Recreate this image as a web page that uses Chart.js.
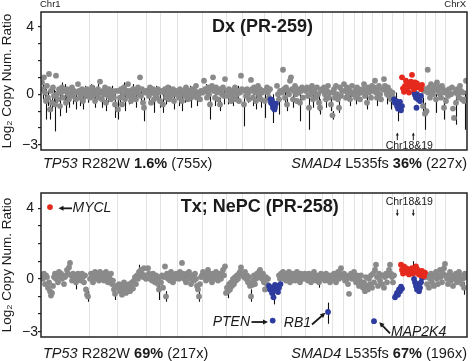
<!DOCTYPE html>
<html><head><meta charset="utf-8">
<script src="https://cdn.jsdelivr.net/npm/chart.js@4.4.1/dist/chart.umd.min.js"></script>
<style>
html,body{margin:0;padding:0;background:#fff;}
#wrap{position:relative;width:473px;height:361px;overflow:hidden;font-family:"Liberation Sans",Arial,sans-serif;color:#1a1a1a;background:#fff;}
canvas{position:absolute;left:0;}
.t{position:absolute;white-space:nowrap;line-height:18px;font-size:14.5px;}
.s{position:absolute;white-space:nowrap;font-size:9.5px;line-height:10px;}
</style></head><body>
<div id="wrap">
<canvas id="c1" width="473" height="175" style="top:0"></canvas>
<canvas id="c2" width="473" height="181" style="top:180px"></canvas>
<div class="s" style="left:40px;top:-1px">Chr1</div>
<div class="s" style="right:7px;top:-1px">ChrX</div>
<div class="t" style="left:43px;top:154px"><i>TP53</i> R282W <b>1.6%</b> (755x)</div>
<div class="t" style="right:6px;top:154px"><i>SMAD4</i> L535fs <b>36%</b> (227x)</div>
<div class="t" style="left:43px;top:344px"><i>TP53</i> R282W <b>69%</b> (217x)</div>
<div class="t" style="right:6px;top:344px"><i>SMAD4</i> L535fs <b>67%</b> (196x)</div>
</div>
<script>
// ---- chromosome boundaries (genome position units) ----
const chrBounds = [48,76.3,105.7,119.7,136.3,161.5,185,201.7,223,240,264.3,281.7,291,302.3,313,321.5,331.5,341,351,362.3,375,384.3,394.3,404.3];
const yTickValues = [-3,-2,-1,0,1,2,3,4];
const yTickLabels = {"4":"4","0":"0","-3":"\u22123"};

// ---- Dx (PR-259): [position, log2 ratio, (low, high)] ----
const dxGray = [
[1,0.7],[2,0.3,-0.3,0.9],[3,1.0],[4,0.1,-0.5,0.5],[5,-0.4,-1.5,0.3],[6,0.5],[7,-0.2,-0.7,0.2],[8,1.2],[9,-0.9,-1.5,-0.3],[10,0.2],[11,-0.5,-1.0,0],[12,0.4],[13,-0.1,-0.6,0.3],[14,-0.6,-2.2,0.2],[15,1.1],[16,0.0,-0.5,0.4],[17,-0.3],[18,0.3],[19,-0.7,-1.3,0],[20,0.1],[21,0.4,-0.2,0.7],[22,-0.2],[24,0.2,-0.4,0.6],[25,-0.5,-1.1,0],[26,0.3],[27,0.0],[28,-0.3,-0.8,0.1],[30,0.1],[31,0.4],[32,-0.1,-0.6,0.3],[33,0.2],[35,-0.3,-0.9,0.1],[36,0.1],[37,0.6],[38,0.2],[39,-0.2,-0.7,0.2],[40,0.0],[41,0.3],[42,-0.4,-0.9,0],[43,0.1],[44,0.2,-0.3,0.5],[45,-0.1],[46,0.3],[47,0.0,-0.5,0.3],
[49,-0.2],[50,0.2,-0.3,0.6],[51,0.4],[52,-0.1],[53,0.1,-0.4,0.5],[54,-0.4,-0.8,0],[55,0.2],[56,0.0],[57,0.3,-0.2,0.6],[58,-0.2],[59,0.75],[60,0.1],[61,-0.3,-0.8,0.1],[62,0.2],[63,0.0],[64,0.4],[65,-0.5,-1.0,0],[66,0.1],[67,-0.1,-0.5,0.3],[68,0.3],[69,0.0],[70,-0.3],[71,0.2,-0.3,0.5],[72,0.1],[73,-0.2],[74,-0.6,-1.4,0],[75,0.2],
[77,-0.9,-1.5,-0.3],[78,0.2],[79,-0.2,-0.6,0.2],[80,0.3],[81,-0.6],[82,0.0],[83,0.4,-0.1,0.7],[84,-0.3,-1.0,0.2],[85,0.1],[86,0.2],[87,0.6],[88,-0.1,-0.6,0.3],[89,0.2],[90,-0.4],[91,0.0],[92,0.3,-0.2,0.6],[93,-0.2],[94,0.1],[95,-0.3,-0.8,0],[96,0.2],[97,0.4],[98,0.0],[99,1.0],[100,-0.1,-0.5,0.3],[101,0.3],[102,-0.5],[103,-0.8,-1.6,-0.2],[104,0.1],[105,0.2],
[107,0.2],[108,-0.1,-0.6,0.3],[109,0.4],[110,-0.5],[111,0.1],[112,0.3],[113,-0.3,-1.1,0.1],[114,0.0],[115,0.2,-0.3,0.5],[116,-0.2],[117,0.3],[118,0.1],[119,-0.4,-0.8,0],
[121,0.2],[122,-0.6,-1.1,0],[123,0.1],[124,0.3],[125,-0.2,-0.6,0.2],[126,0.0],[127,0.4],[128,-0.3],[129,0.2,-0.3,0.5],[130,-0.1],[131,0.1],[132,0.3],[133,-0.4,-0.9,0],[134,0.0],[135,0.2],
[137,0.1],[138,-0.2,-0.7,0.2],[139,0.3],[140,0.0],[141,-0.4,-1.0,0],[142,0.2],[143,0.1],[144,-0.1,-0.5,0.3],[145,0.4],[146,0.0],[147,-0.3],[148,0.2],[149,0.1,-0.4,0.5],[150,-0.2,-0.8,0.2],[151,0.3],[152,0.0],[153,-0.1],[154,0.2],[155,0.5],[156,-0.2,-0.7,0.2],[157,0.1],[158,0.0],[159,-0.3],[160,0.2],
[162,0.1],[163,0.8],[164,0.3],[165,0.2,-0.3,0.6],[166,-0.2],[167,0.4],[168,0.0],[169,-0.6,-1.5,0],[170,0.3],[171,0.5],[172,1.0],[173,0.2],[174,-0.2,-0.7,0.2],[175,0.4],[176,0.1],[177,-0.3],[178,0.3],[179,-0.6,-1.0,-0.2],[180,0.2],[181,0.0],[182,0.4],[183,-0.1,-0.6,0.3],[184,0.9],
[186,0.2],[187,-0.1,-0.6,0.3],[188,0.3],[189,0.0],[190,-0.4],[191,0.2],[192,-0.2,-0.7,0.2],[193,0.1],[194,0.4],[195,-0.3],[196,0.0],[197,0.2,-0.3,0.5],[198,-0.4],[199,0.1],[200,1.1],[201,0.3],
[203,-0.6,-1.9,-0.1],[204,0.2],[205,-0.1],[206,0.3],[207,0.0,-0.5,0.4],[208,-0.3],[209,0.2],[210,0.85],[211,0.3],[212,-0.2,-0.7,0.2],[213,0.4],[214,0.1],[215,-0.4,-0.9,0],[216,0.2],[217,0.5],[218,-0.1],[219,0.3],[220,-0.3,-0.8,0.1],[221,0.1],[222,0.2],
[224,-0.4,-1.4,0],[225,0.2],[226,0.4],[227,0.1],[228,-0.2],[229,0.3],[236,0.5],[237,0.0],[238,-0.3,-1.2,0.1],[239,0.2],
[241,0.1],[242,1.45],[243,0.3],[244,-0.2,-0.7,0.2],[245,0.4],[246,-0.6,-1.0,-0.2],[247,0.2],[248,0.0],[249,0.8],[250,1.0],[251,0.3],[252,-0.3,-0.8,0.1],[253,0.2],[254,0.5],[255,0.0],[256,-0.4],[257,0.3],[258,0.1],[259,-0.5,-1.6,0],[260,0.2],[261,0.4],[262,-0.2],[263,0.3],
[265,0.2],[266,0.4],[267,-0.1],[268,-0.8,-2.1,-0.2],[269,0.3],[270,0.0],[271,0.5],[272,-0.3,-0.8,0.1],[273,0.2],[274,0.1],[275,-0.2],[276,0.4],[277,0.0],[278,-0.5,-1.0,0],[279,-0.8,-1.2,-0.3],[280,0.2],[281,0.3],
[283,0.4],[284,0.0],[285,-0.3,-0.8,0.1],[286,0.2],[287,0.5],[288,-0.2],[289,0.1],[290,-0.6,-1.0,-0.2],
[291.5,-1.25,-1.5,-1.0],[292,0.1],[293,0.3],[294,-0.2],[295,0.5],[296,0.0],[297,-0.3],[298,-0.8,-1.1,-0.4],[299,0.4],[300,-0.1],[301,0.2],
[303,0.6],[304,0.2],[305,-0.2],[306,0.4],[307,0.0],[308,0.3],[309,-0.3,-0.7,0],[310,0.1],[311,0.5],[312,0.0],
[314,0.2],[315,-0.2,-0.6,0.2],[316,0.4],[317,0.0],[318,0.3],[319,-0.3],[320,0.1],[321,0.2],
[322,0.3],[323,0.6],[324,-0.1],[325,0.2],[326,-0.5,-0.9,0],[327,0.4],[328,0.1],[329,0.3],[330,-0.2],[331,0.5],
[332,0.2],[333,0.4],[334,0.8],[335,0.1],[336,-0.2,-0.7,0.2],[337,0.3],[338,0.5],[339,0.0],[340,-0.3],
[342,0.3],[343,0.9],[344,0.5],[345,0.2],[346,0.0,-0.6,0.3],[347,0.4],[348,-0.1],[349,0.2],[350,-0.3,-0.9,0.1],
[351.5,0.1],[352,-0.2],
[382,-0.7,-1.2,-0.2],[383,0.2],[384,-1.15,-2.1,-0.5],[385,0.3],[385.5,-1.0],[386.7,1.45],[387,0.1],[388,0.4],[389,-0.2],[390,0.6],[391,0.2],[392,0.0],[393,0.5],[394,0.3],[395,-0.3,-1.1,0],[396,0.7],[397,0.2],[398,0.4],[399,0.0],[400,-0.2],[401,0.5],[402,0.3],[403,-0.8,-1.5,-0.2],[404,0.1],[405,-0.4],[406,0.2],[407,-0.1],[408,0.3],[409,0.0],[410,0.0],[411,0.4],[412,-0.85],[413,-1.4],[414,0.1],[415,-0.5,-1.8,0.1],[416,0.3],[417,0.0],[418,-0.2],[419,0.5],[420,0.2],[421,-0.3],[422,0.1],[423,-0.4],[424,-0.3,-2.1,0.2],[425,0.8]
];
const dxBlue = [
[229.5,-0.3],[230,-0.5],[231,-0.35],[231.5,-0.6],[232,-0.8,-1.7,0],[233,-0.65],[233.5,-0.9],[234,-0.75],[235,-0.55],
[353,-0.3],[354,-0.5],[355,-0.4,-1.0,0.1],[356,-0.7],[357,-0.85,-1.6,-0.3],[358,-0.6],[359,-0.45],[360,-0.95],[361,-0.7],
[373,0.1],[374,-0.05],[375,-0.2],[376,0.0],[377,-0.3],[378,-0.15],[379,-0.4],[380,-0.1],[375.5,-0.8]
];
const dxRed = [
[361,1.0],[362,0.35],[363,0.15],[364,0.5],[365,0.8],[366,0.25],[367,0.6],[368,0.1],[369,0.45],[370,0.75],[371,1.15],[372,0.55],[373,0.3],[374,0.7],[375,0.4],[376,0.65],[378,0.45],[380,0.3],[381,0.55]
];

// ---- Tx; NePC (PR-258) ----
const txGray = [
[1,0.2],[2,0.0],[3,0.3],[4,-0.3],[5,0.2],[6,0.1],[7,-0.5],[8,-0.2],[9,-0.7],[10,-0.95],[11,-0.8],[12,-0.4],[13,0.1],[14,0.3],[15,0.0],[16,0.2],[17,-0.2],[18,0.4],[19,0.1],[20,0.3],[21,0.0],[22,0.2],[23,-0.3],[24,0.1],[25,0.2],[26,0.5],[27,0.3],[28,0.65],[29,0.9],[30,0.2],[31,-0.1],[32,0.3],[33,0.0],[34,0.2],[35,-0.2,-0.6,0.2],[36,0.1],[37,0.3],[38,0.0],[39,0.2],[40,-0.1],[41,0.3],[42,0.1],[43,-0.2],[44,0.2],[45,-0.6],[46,-0.9],[47,-1.0,-1.3,-0.7],
[49,0.0],[50,0.3],[51,0.1],[52,-0.2],[53,0.2],[54,0.4],[55,0.0],[56,0.3],[57,0.1],[58,-0.1],[59,0.4],[60,0.2],[61,0.0],[62,0.3],[63,-0.1],[64,0.2],[65,0.4],[66,0.1],[67,-0.2],[68,0.2],[69,0.0],[70,0.3],[71,-0.3],[72,-0.1],[73,-0.6],[74,-0.85,-1.2,-0.5],[75,-0.4],
[77,-0.5],[78,-0.3],[79,-0.7],[80,-0.4],[81,-0.9],[82,-0.6],[83,-0.2],[84,-0.5],[85,-0.8],[86,-0.4],[87,-0.6],[88,-0.3],[89,-0.7],[90,-0.45],[91,-0.2],[92,-0.55],[93,-0.1],[94,0.1],[95,-0.3],[96,0.2],[97,0.0],[98,0.4,0.1,0.8],[99,0.2],[100,0.5],[101,0.3],[102,0.1],[103,0.6],[104,0.2],[105,0.0],
[107,0.6],[108,0.3],[109,0.0],[110,0.2],[111,-0.1],[112,0.3],[113,0.1],[114,-0.2],[115,0.2],[116,0.0],[117,-0.3],[118,-0.6,-1.2,-0.3],[119,0.1],
[120,-0.2],[121,0.2],[122,-0.5],[123,0.1],[124,0.7],[125,-1.0,-1.3,-0.7],[126,0.3],[127,0.0],[128,0.2],[129,-0.1],[130,0.4],[131,0.1],[132,-0.2],[133,0.2],[134,0.0],[135,0.3],
[137,0.2],[138,0.0],[139,0.4],[140,0.1],[141,0.9],[142,0.3],[143,0.0],[144,0.2],[145,-0.2],[146,0.3],[147,0.1],[148,0.4],[149,0.0],[150,-0.3],[151,0.2],[152,0.1],[153,-0.1],[154,0.3],[155,0.0],[156,-0.4],[157,-0.6],[158,-1.0,-1.3,-0.7],[159,-0.3],[160,0.1],
[161,0.2],[162,0.4],[163,0.1],[164,0.3],[165,-0.1],[166,0.2],[167,0.5],[168,0.0],[169,0.3],[170,0.1],[171,-0.2],[172,0.3],[173,0.2],[174,0.0],[175,0.4],[176,0.1],[177,-0.1],[178,0.3],[179,0.2],[180,0.0],[181,0.3],[182,0.5],[183,0.2],[184,0.7],
[185,-0.8],[186,-0.5],[187,-0.7,-1.1,-0.4],[188,-0.3],[189,-0.6],[190,-0.2],[191,-0.4],[192,0.0],[193,-0.3],[194,0.1],[195,-0.1],[196,0.2],[197,0.0],[198,0.3],[199,0.4],[200,0.65],[201,0.2],
[202,0.3],[203,0.1],[204,0.4],[205,0.0],[206,0.2],[207,-0.2],[208,0.1],[209,-0.4],[210,-1.0,-1.3,-0.6],[211,-0.35],[212,-0.1],[213,0.2],[214,-0.3],[215,0.0],[216,0.3],[217,0.1],[218,0.4],[219,0.5],[220,0.2],[221,0.0],[222,0.3],
[223,-0.2],[224,-0.6],[225,0.1],[226,-0.3],[227,0.0],[238,0.2],[239,0.0],
[240,0.3],[241,0.1],[242,0.4],[243,0.0],[244,0.2],[245,-0.1],[246,0.3],[247,0.1],[248,0.4],[249,-0.2],[250,0.2],[251,0.0],[252,0.3],[253,0.1],[254,-0.1],[255,0.2],[256,0.4],[257,0.0],[258,0.2],[259,-0.2],[260,0.3],[261,0.1],[262,0.0],[263,0.2],
[264,0.3],[265,0.0],[266,0.2],[267,-0.1],[268,0.3],[269,0.1],[270,-0.2],[271,0.2],[272,0.0],[273,0.4],[274,0.1],[275,-0.1],[276,0.2],[277,0.0],[278,-0.2,-0.5,0.1],[279,0.1],[280,0.3],[281,0.0],
[283,0.2],[284,-0.1],[285,0.3],[286,0.0],[288,0.2],[289,-0.2],[290,0.1],
[291,0.2],[292,0.0],[293,0.3],[294,0.1],[295,-0.2],[296,0.2],[297,0.4],[298,0.0],[299,0.3],[300,0.6],[301,0.2],
[302,0.1],[303,0.3],[304,-0.1],[305,0.2],[306,0.0],[307,-0.3],[308,-0.85],[309,0.1],[310,0.3],[311,0.0],[312,0.2],
[313,0.4],[314,0.1],[315,-0.2],[316,0.2],[317,0.0],[318,-0.4],[319,-0.1],[320,0.2],[321,-0.3],
[322,-0.5],[323,-0.2],[324,-0.7],[325,0.1],[326,-0.4],[327,-0.6],[328,0.0],[329,-0.3],[330,0.2],[331,-0.5],
[332,0.3],[333,-0.2],[334,0.5],[335,0.8],[336,0.1],[337,-0.4],[338,0.3],[339,-0.1],[340,0.2],
[341,-0.3],[342,0.2],[343,-0.5],[344,0.1],[345,0.3],[346,-0.2],[347,0.2],[348,0.5],[349,0.8],[350,0.3],
[351,0.1],[352,-0.2],[353,0.2],
[385,0.1],[386,-0.3],[387,0.2],[388,-0.5],[389,0.0],[390,0.3],[391,-0.2],[392,0.1],[393,-0.4],[394,0.2],[395,0.4],[396,0.0],[397,-0.3],[398,0.2],[399,0.5],[400,0.1],[401,-0.2],[402,0.3],[403,0.6],[404,0.85],[405,0.2],[406,0.0],[407,-0.3],[408,0.2],[409,0.4],[410,-0.1],[411,0.1],[412,-0.4],[413,0.2],[414,0.0],[415,0.3],[416,-0.2],[417,0.1],[418,0.4],[419,-0.1],[420,0.2],[421,-0.3],[422,0.0],[423,-0.5,-0.9,-0.2],[424,0.3],[425,0.1]
];
const txBlue = [
[228,-0.4],[229,-0.6],[230,-0.5],[231,-0.8],[232,-0.7],[232.5,-1.05,-1.45,-0.7],[233,-0.5],[234,-0.35],[235,-0.6],[236,-0.4],[237,-0.75],[238,-0.5],[239.5,-0.3],
[231.7,-2.37],[287,-1.88,-2.55,-1.35],[333,-2.4],
[354,-1.05],[355,-0.95],[356,-0.8],[357,-0.9],[358,-0.6],[359,-0.7],[360,-0.45],[361,-0.55],
[373,0.0],[374,-0.2],[375,-0.4],[376,-0.6],[377,-0.3],[378,-0.7],[379,-0.5],[380,-0.2],[381,0.05]
];
const txRed = [
[9,4.07],
[360,0.8],[361,0.5],[362,0.3],[363,0.7],[364,0.45],[365,0.6],[366,0.35],[367,0.55],[368,0.25],[369,0.5],[370,0.4],[371,0.6],[372,0.3,-0.1,1.0],[373,0.5],[374,0.45],[375,0.7],[376,0.35],[377,0.5],[378,0.25],[379,0.4],[380,0.2],[381,0.45],[382,0.3],[383,0.15],[384,0.35]
];

const FF = '"Liberation Sans", Arial, sans-serif';
Chart.defaults.font.family = FF;
const GRAY = '#8a8a8a', BLUE = '#2e3c9f', RED = '#e52a1d', INK = '#1a1a1a';

function toPts(arr){ return arr.map(p => ({x:p[0], y:p[1], lo:p[2], hi:p[3]})); }

function makePlugin(annos){
  return {
    id:'panelDeco',
    beforeDatasetsDraw(chart){
      const ctx = chart.ctx, xs = chart.scales.x, ys = chart.scales.y, a = chart.chartArea;
      ctx.save();
      ctx.beginPath(); ctx.rect(a.left, a.top, a.right-a.left, a.bottom-a.top); ctx.clip();
      ctx.strokeStyle = '#111'; ctx.lineWidth = 1.1;
      chart.data.datasets.forEach(ds => ds.data.forEach(p => {
        if (p.lo !== undefined) {
          const x = Math.round(xs.getPixelForValue(p.x)) + 0.5;
          ctx.beginPath(); ctx.moveTo(x, ys.getPixelForValue(p.lo)); ctx.lineTo(x, ys.getPixelForValue(p.hi)); ctx.stroke();
        }
      }));
      ctx.restore();
    },
    afterDatasetsDraw(chart){
      const ctx = chart.ctx, xs = chart.scales.x, ys = chart.scales.y, a = chart.chartArea;
      ctx.save();
      ctx.strokeStyle = '#222'; ctx.lineWidth = 1.5;
      ctx.strokeRect(a.left, a.top, a.right-a.left, a.bottom-a.top);
      ctx.fillStyle = INK; ctx.strokeStyle = INK;
      annos.forEach(it => {
        if (it.t === 'text') {
          const px = xs.getPixelForValue(it.x), py = ys.getPixelForValue(it.y);
          let w = 0; it.segs.forEach(s => { ctx.font = s[1]; w += ctx.measureText(s[0]).width; });
          let x = it.align === 'center' ? px - w/2 : (it.align === 'right' ? px - w : px);
          ctx.textBaseline = 'middle'; ctx.textAlign = 'left';
          it.segs.forEach(s => { ctx.font = s[1]; ctx.fillText(s[0], x, py); x += ctx.measureText(s[0]).width; });
        } else if (it.t === 'arrow') {
          const x1 = xs.getPixelForValue(it.x1), y1 = ys.getPixelForValue(it.y1);
          const x2 = xs.getPixelForValue(it.x2), y2 = ys.getPixelForValue(it.y2);
          const ang = Math.atan2(y2-y1, x2-x1), h = it.h, hw = h*0.5;
          const bx = x2 - Math.cos(ang)*h*0.8, by = y2 - Math.sin(ang)*h*0.8;
          ctx.lineWidth = it.w;
          ctx.beginPath(); ctx.moveTo(x1, y1); ctx.lineTo(bx, by); ctx.stroke();
          ctx.beginPath();
          ctx.moveTo(x2, y2);
          ctx.lineTo(x2 - Math.cos(ang)*h + Math.sin(ang)*hw, y2 - Math.sin(ang)*h - Math.cos(ang)*hw);
          ctx.lineTo(x2 - Math.cos(ang)*h - Math.sin(ang)*hw, y2 - Math.sin(ang)*h + Math.cos(ang)*hw);
          ctx.closePath(); ctx.fill();
        }
      });
      ctx.restore();
    }
  };
}

function makeChart(id, gray, blue, red, annos, pad){
  return new Chart(document.getElementById(id), {
    type:'scatter',
    data:{datasets:[
      {data:toPts(red), backgroundColor:RED, pointRadius:2.9, pointBorderWidth:0, order:1},
      {data:toPts(blue), backgroundColor:BLUE, pointRadius:2.9, pointBorderWidth:0, order:2},
      {data:toPts(gray), backgroundColor:GRAY, pointRadius:2.9, pointBorderWidth:0, order:3}
    ]},
    options:{
      responsive:false, animation:false, devicePixelRatio:1, events:[],
      layout:{padding:pad},
      plugins:{legend:{display:false}, tooltip:{enabled:false}},
      scales:{
        x:{type:'linear', min:0, max:426,
          afterBuildTicks:s=>{ s.ticks = chrBounds.map(v=>({value:v})); },
          afterFit:s=>{ s.height = 0; },
          ticks:{display:false},
          grid:{color:'#e3e3e3', lineWidth:1, drawTicks:false},
          border:{display:false}},
        y:{min:-3.3, max:4.87,
          afterBuildTicks:s=>{ s.ticks = yTickValues.map(v=>({value:v})); },
          afterFit:s=>{ s.width = 41; },
          ticks:{callback:v=>yTickLabels[String(v)] || '', font:{size:14}, color:INK, padding:0, crossAlign:'center', autoSkip:false},
          grid:{drawOnChartArea:false, drawTicks:true, tickLength:3, color:'#222', lineWidth:1.2},
          border:{display:false},
          title:{display:true, text:'Log\u2082 Copy Num. Ratio', font:{size:13.5, lineHeight:1}, color:INK, padding:{top:1, bottom:0}}}
      }
    },
    plugins:[makePlugin(annos)]
  });
}

const dxAnnos = [
  {t:'text', x:221.5, y:3.98, align:'center', segs:[['Dx (PR-259)','bold 18px '+FF]]},
  {t:'text', x:368.3, y:-3.08, align:'center', segs:[['Chr18&19','10.5px '+FF]]},
  {t:'arrow', x1:356.3, y1:-2.72, x2:356.3, y2:-2.27, w:1, h:3},
  {t:'arrow', x1:372.3, y1:-2.72, x2:372.3, y2:-2.27, w:1, h:3}
];
const txAnnos = [
  {t:'text', x:218.7, y:4.07, align:'center', segs:[['Tx; NePC (PR-258)','bold 18px '+FF]]},
  {t:'arrow', x1:31, y1:4.0, x2:17.5, y2:4.0, w:1.8, h:5},
  {t:'text', x:31.5, y:4.0, align:'left', segs:[['MYCL','italic 14px '+FF]]},
  {t:'text', x:368.3, y:4.34, align:'center', segs:[['Chr18&19','10.5px '+FF]]},
  {t:'arrow', x1:356.3, y1:3.94, x2:356.3, y2:3.55, w:1, h:3},
  {t:'arrow', x1:372.3, y1:3.94, x2:372.3, y2:3.55, w:1, h:3},
  {t:'text', x:209, y:-2.45, align:'right', segs:[['PTEN','italic 14px '+FF]]},
  {t:'arrow', x1:210.5, y1:-2.45, x2:227, y2:-2.45, w:1.8, h:5},
  {t:'text', x:270, y:-2.54, align:'right', segs:[['RB1','italic 14px '+FF]]},
  {t:'arrow', x1:271, y1:-2.59, x2:284.3, y2:-1.93, w:1.8, h:5},
  {t:'arrow', x1:349, y1:-3.1, x2:338.3, y2:-2.46, w:1.8, h:5},
  {t:'text', x:350, y:-3.01, align:'left', segs:[['MAP2K4','italic 14px '+FF]]}
];

makeChart('c1', dxGray, dxBlue, dxRed, dxAnnos, {top:12, right:6, bottom:25, left:0});
makeChart('c2', txGray, txBlue, txRed, txAnnos, {top:13, right:6, bottom:24, left:0});
</script>
</body></html>
